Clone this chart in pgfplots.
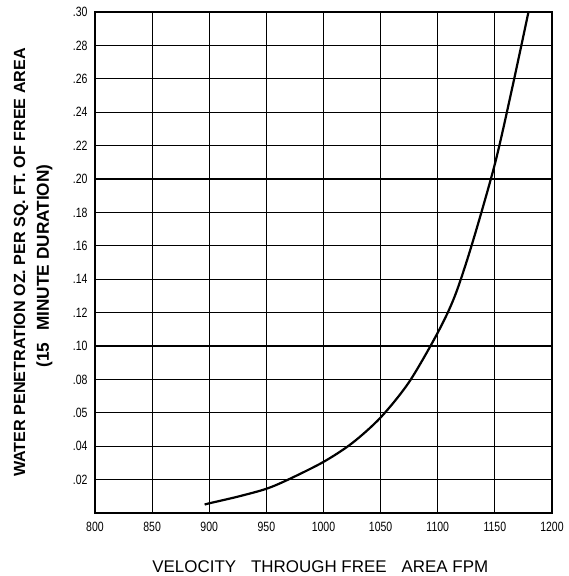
\documentclass[border=0pt]{standalone}
\usepackage{fontspec}
\setmainfont{Liberation Sans}
\newfontfamily\narrowfont[FakeStretch=0.78]{Liberation Sans}
\usepackage{pgfplots}
\pgfplotsset{compat=1.18}
\begin{document}
\begin{tikzpicture}
\useasboundingbox (-95bp,-63bp) rectangle (474bp,513bp);
\begin{axis}[
  scale only axis,
  width=457bp, height=501bp,
  clip=false,
  xmin=800, xmax=1200, ymin=0, ymax=0.30,
  xtick={800,850,900,950,1000,1050,1100,1150,1200},
  xticklabels={800,850,900,950,1000,1050,1100,1150,1200},
  ytick={0.02,0.04,0.06,0.08,0.10,0.12,0.14,0.16,0.18,0.20,0.22,0.24,0.26,0.28,0.30},
  yticklabels={.02,.04,.05,.08,.10,.12,.14,.16,.18,.20,.22,.24,.26,.28,.30},
  major tick length=0pt,
  tick label style={font=\narrowfont\fontsize{13.5}{14}\selectfont},
  xticklabel style={yshift=-6bp},
  yticklabel style={xshift=-4bp},
  grid=major,
  major grid style={black, line width=1.1bp},
  axis line style={black, line width=1.3bp},
  xlabel={VELOCITY\hspace{15bp}THROUGH FREE\hspace{15bp}AREA FPM},
  xlabel style={font=\fontsize{17}{18}\selectfont, at={(axis description cs:0.493,0)}, anchor=center, yshift=-54bp},
  ylabel={WATER PENETRATION OZ. PER SQ. FT. OF FREE AREA},
  ylabel style={font=\bfseries\fontsize{16.2}{18}\selectfont, at={(axis description cs:0,0.5)}, anchor=center, yshift=74bp},
]
\addplot[black, line width=2.2bp, smooth, tension=0.5] coordinates {
(896,0.0050) (900,0.0058) (925,0.0098) (950,0.0145) (970,0.0203) (1000,0.0306)
(1025,0.0418) (1050,0.0572) (1075,0.0785) (1100,0.108) (1115,0.130)
(1130,0.161) (1150,0.209) (1165,0.254) (1179.4,0.300)
};
\path (rel axis cs:0,0.5) ++(-50.5bp,-3.5bp) node[rotate=90, anchor=center, font=\bfseries\fontsize{17.3}{18}\selectfont] {(15\hspace{12bp}MINUTE DURATION)};
\end{axis}
\end{tikzpicture}
\end{document}
